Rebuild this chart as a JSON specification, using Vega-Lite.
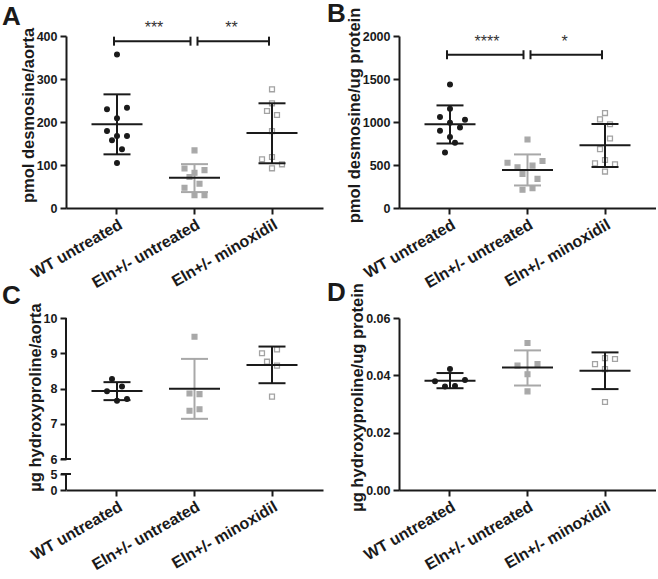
{
 "$schema": "https://vega.github.io/schema/vega-lite/v6.json",
 "padding": {"left": 2, "top": 1, "right": 0, "bottom": 0},
 "datasets": {
  "pts": [
   {"panel":"A","group":"WT untreated","value":357,"slot":0},
   {"panel":"A","group":"WT untreated","value":229.5,"slot":-2},
   {"panel":"A","group":"WT untreated","value":233,"slot":2},
   {"panel":"A","group":"WT untreated","value":208.6,"slot":0},
   {"panel":"A","group":"WT untreated","value":179,"slot":-2},
   {"panel":"A","group":"WT untreated","value":167.4,"slot":0},
   {"panel":"A","group":"WT untreated","value":167.4,"slot":2},
   {"panel":"A","group":"WT untreated","value":157.4,"slot":-1},
   {"panel":"A","group":"WT untreated","value":136.4,"slot":1},
   {"panel":"A","group":"WT untreated","value":104.7,"slot":0},
   {"panel":"A","group":"Eln+/- untreated","value":134,"slot":0},
   {"panel":"A","group":"Eln+/- untreated","value":92,"slot":-2},
   {"panel":"A","group":"Eln+/- untreated","value":88,"slot":2},
   {"panel":"A","group":"Eln+/- untreated","value":82,"slot":0},
   {"panel":"A","group":"Eln+/- untreated","value":72,"slot":-1},
   {"panel":"A","group":"Eln+/- untreated","value":56.5,"slot":1},
   {"panel":"A","group":"Eln+/- untreated","value":47,"slot":-2},
   {"panel":"A","group":"Eln+/- untreated","value":30,"slot":0},
   {"panel":"A","group":"Eln+/- untreated","value":30,"slot":2},
   {"panel":"A","group":"Eln+/- minoxidil","value":276,"slot":0},
   {"panel":"A","group":"Eln+/- minoxidil","value":243.5,"slot":0},
   {"panel":"A","group":"Eln+/- minoxidil","value":225.6,"slot":-1},
   {"panel":"A","group":"Eln+/- minoxidil","value":216.3,"slot":1},
   {"panel":"A","group":"Eln+/- minoxidil","value":179,"slot":0},
   {"panel":"A","group":"Eln+/- minoxidil","value":118.6,"slot":0},
   {"panel":"A","group":"Eln+/- minoxidil","value":113.2,"slot":-2},
   {"panel":"A","group":"Eln+/- minoxidil","value":101.6,"slot":2},
   {"panel":"A","group":"Eln+/- minoxidil","value":92.3,"slot":0},
   {"panel":"B","group":"WT untreated","value":1436,"slot":0},
   {"panel":"B","group":"WT untreated","value":1154,"slot":0},
   {"panel":"B","group":"WT untreated","value":1058,"slot":-2},
   {"panel":"B","group":"WT untreated","value":1027,"slot":3},
   {"panel":"B","group":"WT untreated","value":992,"slot":0},
   {"panel":"B","group":"WT untreated","value":935,"slot":2},
   {"panel":"B","group":"WT untreated","value":897,"slot":-2},
   {"panel":"B","group":"WT untreated","value":827,"slot":0},
   {"panel":"B","group":"WT untreated","value":758,"slot":1},
   {"panel":"B","group":"WT untreated","value":646,"slot":-1},
   {"panel":"B","group":"Eln+/- untreated","value":796,"slot":0},
   {"panel":"B","group":"Eln+/- untreated","value":527,"slot":-4},
   {"panel":"B","group":"Eln+/- untreated","value":473,"slot":-2},
   {"panel":"B","group":"Eln+/- untreated","value":493,"slot":1},
   {"panel":"B","group":"Eln+/- untreated","value":547,"slot":3},
   {"panel":"B","group":"Eln+/- untreated","value":397,"slot":-1},
   {"panel":"B","group":"Eln+/- untreated","value":339,"slot":2},
   {"panel":"B","group":"Eln+/- untreated","value":212,"slot":-1},
   {"panel":"B","group":"Eln+/- untreated","value":231,"slot":1},
   {"panel":"B","group":"Eln+/- minoxidil","value":1104,"slot":0},
   {"panel":"B","group":"Eln+/- minoxidil","value":1031,"slot":-1},
   {"panel":"B","group":"Eln+/- minoxidil","value":974,"slot":1},
   {"panel":"B","group":"Eln+/- minoxidil","value":808,"slot":1},
   {"panel":"B","group":"Eln+/- minoxidil","value":685,"slot":-1},
   {"panel":"B","group":"Eln+/- minoxidil","value":558,"slot":0},
   {"panel":"B","group":"Eln+/- minoxidil","value":519,"slot":-2},
   {"panel":"B","group":"Eln+/- minoxidil","value":508,"slot":2},
   {"panel":"B","group":"Eln+/- minoxidil","value":424,"slot":0},
   {"panel":"C","group":"WT untreated","value":8.27,"slot":-1},
   {"panel":"C","group":"WT untreated","value":8.06,"slot":1},
   {"panel":"C","group":"WT untreated","value":7.92,"slot":-2},
   {"panel":"C","group":"WT untreated","value":7.65,"slot":0},
   {"panel":"C","group":"WT untreated","value":7.7,"slot":2},
   {"panel":"C","group":"Eln+/- untreated","value":9.47,"slot":0},
   {"panel":"C","group":"Eln+/- untreated","value":7.86,"slot":-1},
   {"panel":"C","group":"Eln+/- untreated","value":7.84,"slot":1},
   {"panel":"C","group":"Eln+/- untreated","value":7.37,"slot":-1},
   {"panel":"C","group":"Eln+/- untreated","value":7.41,"slot":1},
   {"panel":"C","group":"Eln+/- minoxidil","value":9.11,"slot":1},
   {"panel":"C","group":"Eln+/- minoxidil","value":9.0,"slot":-2},
   {"panel":"C","group":"Eln+/- minoxidil","value":8.76,"slot":-1},
   {"panel":"C","group":"Eln+/- minoxidil","value":8.65,"slot":1},
   {"panel":"C","group":"Eln+/- minoxidil","value":7.77,"slot":0},
   {"panel":"D","group":"WT untreated","value":0.0422,"slot":0},
   {"panel":"D","group":"WT untreated","value":0.0379,"slot":-3},
   {"panel":"D","group":"WT untreated","value":0.0384,"slot":3},
   {"panel":"D","group":"WT untreated","value":0.0361,"slot":-1},
   {"panel":"D","group":"WT untreated","value":0.0363,"slot":1},
   {"panel":"D","group":"Eln+/- untreated","value":0.0513,"slot":0},
   {"panel":"D","group":"Eln+/- untreated","value":0.0434,"slot":-2},
   {"panel":"D","group":"Eln+/- untreated","value":0.0439,"slot":2},
   {"panel":"D","group":"Eln+/- untreated","value":0.0404,"slot":0},
   {"panel":"D","group":"Eln+/- untreated","value":0.0344,"slot":0},
   {"panel":"D","group":"Eln+/- minoxidil","value":0.046,"slot":0},
   {"panel":"D","group":"Eln+/- minoxidil","value":0.0457,"slot":2},
   {"panel":"D","group":"Eln+/- minoxidil","value":0.0439,"slot":-2},
   {"panel":"D","group":"Eln+/- minoxidil","value":0.0422,"slot":0},
   {"panel":"D","group":"Eln+/- minoxidil","value":0.0307,"slot":0}
  ],
  "summ": [
   {"panel":"A","group":"WT untreated","mean":194.5,"lo":124.8,"hi":264.3},
   {"panel":"A","group":"Eln+/- untreated","mean":70.5,"lo":37,"hi":102},
   {"panel":"A","group":"Eln+/- minoxidil","mean":174.4,"lo":104,"hi":243.5},
   {"panel":"B","group":"WT untreated","mean":974,"lo":750,"hi":1193},
   {"panel":"B","group":"Eln+/- untreated","mean":443,"lo":262,"hi":623},
   {"panel":"B","group":"Eln+/- minoxidil","mean":731,"lo":477,"hi":977},
   {"panel":"C","group":"WT untreated","mean":7.93,"lo":7.67,"hi":8.18},
   {"panel":"C","group":"Eln+/- untreated","mean":7.99,"lo":7.14,"hi":8.84},
   {"panel":"C","group":"Eln+/- minoxidil","mean":8.67,"lo":8.15,"hi":9.19},
   {"panel":"D","group":"WT untreated","mean":0.0381,"lo":0.0355,"hi":0.0408},
   {"panel":"D","group":"Eln+/- untreated","mean":0.0427,"lo":0.03645,"hi":0.0487},
   {"panel":"D","group":"Eln+/- minoxidil","mean":0.0416,"lo":0.0352,"hi":0.048}
  ],
  "sig": [
   {"panel":"A","b":1,"from":"WT untreated","to":"Eln+/- untreated","y":388,"label":"***"},
   {"panel":"A","b":2,"from":"Eln+/- untreated","to":"Eln+/- minoxidil","y":388,"label":"**"},
   {"panel":"B","b":1,"from":"WT untreated","to":"Eln+/- untreated","y":1782,"label":"****"},
   {"panel":"B","b":2,"from":"Eln+/- untreated","to":"Eln+/- minoxidil","y":1782,"label":"*"}
  ],
  "brk": [
   {"a":0,"b":5,"cap":5},
   {"a":6,"b":10,"cap":6}
  ]
 },
 "config": {
  "font": "Liberation Sans",
  "view": {"stroke": null},
  "axis": {"grid": false, "domainColor": "#1a1a1a", "domainWidth": 2, "tickColor": "#1a1a1a", "tickWidth": 2, "tickSize": 6, "labelColor": "#1a1a1a", "labelFontWeight": "bold", "titleColor": "#1a1a1a", "titleFontWeight": "bold", "titleFontSize": 16.5, "labelFont": "Liberation Sans", "titleFont": "Liberation Sans"},
  "axisY": {"labelFontSize": 12.5, "labelPadding": 3, "titlePadding": 0, "titleY": 79},
  "axisX": {"labelFontSize": 16, "labelAngle": -30, "labelPadding": 2},
  "title": {"anchor": "start", "frame": "group", "fontSize": 26, "fontWeight": "bold", "color": "#1a1a1a", "font": "Liberation Sans"}
 },
 "spacing": -12,
 "vconcat": [
  {
   "spacing": 4,
   "hconcat": [
    {
     "width": 257, "height": 172,
     "title": {"text": "A", "dx": -64, "offset": -10},
     "layer": [
      {"data": {"name": "pts"}, "transform": [{"filter": "datum.panel==='A'"}],
       "mark": {"type": "point", "filled": false, "strokeWidth": 1.3, "opacity": 1},
       "encoding": {
        "x": {"field": "group", "type": "nominal", "scale": {"type": "band", "domain": ["WT untreated","Eln+/- untreated","Eln+/- minoxidil"], "paddingInner": 0.484, "paddingOuter": 0.4}, "axis": {"title": null}},
        "xOffset": {"field": "slot", "type": "quantitative", "scale": {"domain": [-4, 4], "nice": false, "zero": false}},
        "y": {"field": "value", "type": "quantitative", "scale": {"domain": [0, 400], "nice": false, "zero": false}, "axis": {"values": [0,100,200,300,400], "format": "d", "title": "pmol desmosine/aorta"}},
        "shape": {"field": "group", "type": "nominal", "scale": {"domain": ["WT untreated","Eln+/- untreated","Eln+/- minoxidil"], "range": ["circle","square","square"]}, "legend": null},
        "fill": {"field": "group", "type": "nominal", "scale": {"domain": ["WT untreated","Eln+/- untreated","Eln+/- minoxidil"], "range": ["#1a1a1a","#a8a8a8","transparent"]}, "legend": null},
        "stroke": {"field": "group", "type": "nominal", "scale": {"domain": ["WT untreated","Eln+/- untreated","Eln+/- minoxidil"], "range": ["#1a1a1a","#a8a8a8","#a3a3a3"]}, "legend": null},
        "size": {"field": "group", "type": "ordinal", "scale": {"domain": ["WT untreated","Eln+/- untreated","Eln+/- minoxidil"], "range": [22,24,32]}, "legend": null}
       }},
      {"data": {"name": "summ"}, "transform": [{"filter": "datum.panel==='A'"}],
       "mark": {"type": "rule", "strokeWidth": 2},
       "encoding": {
        "x": {"field": "group", "type": "nominal", "scale": {"type": "band", "domain": ["WT untreated","Eln+/- untreated","Eln+/- minoxidil"], "paddingInner": 0.484, "paddingOuter": 0.4}, "axis": {"title": null}},
        "y": {"field": "lo", "type": "quantitative", "scale": {"domain": [0, 400], "nice": false, "zero": false}, "axis": {"values": [0,100,200,300,400], "format": "d", "title": "pmol desmosine/aorta"}},
        "y2": {"field": "hi"},
        "color": {"field": "group", "type": "nominal", "scale": {"domain": ["WT untreated","Eln+/- untreated","Eln+/- minoxidil"], "range": ["#1a1a1a","#a8a8a8","#1a1a1a"]}, "legend": null}
       }},
      {"data": {"name": "summ"}, "transform": [{"filter": "datum.panel==='A'"}],
       "mark": {"type": "tick", "orient": "horizontal", "size": 27, "thickness": 2, "opacity": 1},
       "encoding": {
        "x": {"field": "group", "type": "nominal", "scale": {"type": "band", "domain": ["WT untreated","Eln+/- untreated","Eln+/- minoxidil"], "paddingInner": 0.484, "paddingOuter": 0.4}, "axis": {"title": null}},
        "y": {"field": "hi", "type": "quantitative", "scale": {"domain": [0, 400], "nice": false, "zero": false}, "axis": {"values": [0,100,200,300,400], "format": "d", "title": "pmol desmosine/aorta"}},
        "color": {"field": "group", "type": "nominal", "scale": {"domain": ["WT untreated","Eln+/- untreated","Eln+/- minoxidil"], "range": ["#1a1a1a","#a8a8a8","#1a1a1a"]}, "legend": null}
       }},
      {"data": {"name": "summ"}, "transform": [{"filter": "datum.panel==='A'"}],
       "mark": {"type": "tick", "orient": "horizontal", "size": 27, "thickness": 2, "opacity": 1},
       "encoding": {
        "x": {"field": "group", "type": "nominal", "scale": {"type": "band", "domain": ["WT untreated","Eln+/- untreated","Eln+/- minoxidil"], "paddingInner": 0.484, "paddingOuter": 0.4}, "axis": {"title": null}},
        "y": {"field": "lo", "type": "quantitative", "scale": {"domain": [0, 400], "nice": false, "zero": false}, "axis": {"values": [0,100,200,300,400], "format": "d", "title": "pmol desmosine/aorta"}},
        "color": {"field": "group", "type": "nominal", "scale": {"domain": ["WT untreated","Eln+/- untreated","Eln+/- minoxidil"], "range": ["#1a1a1a","#a8a8a8","#1a1a1a"]}, "legend": null}
       }},
      {"data": {"name": "summ"}, "transform": [{"filter": "datum.panel==='A'"}],
       "mark": {"type": "tick", "orient": "horizontal", "size": 51, "thickness": 2, "opacity": 1, "color": "#1a1a1a"},
       "encoding": {
        "x": {"field": "group", "type": "nominal", "scale": {"type": "band", "domain": ["WT untreated","Eln+/- untreated","Eln+/- minoxidil"], "paddingInner": 0.484, "paddingOuter": 0.4}, "axis": {"title": null}},
        "y": {"field": "mean", "type": "quantitative", "scale": {"domain": [0, 400], "nice": false, "zero": false}, "axis": {"values": [0,100,200,300,400], "format": "d", "title": "pmol desmosine/aorta"}}
       }},
      {"data": {"name": "sig"}, "transform": [{"filter": "datum.panel==='A' && datum.b===1"}],
       "mark": {"type": "rule", "strokeWidth": 2, "color": "#1a1a1a", "xOffset": -3, "x2Offset": -4},
       "encoding": {
        "x": {"field": "from", "type": "nominal", "scale": {"type": "band", "domain": ["WT untreated","Eln+/- untreated","Eln+/- minoxidil"], "paddingInner": 0.484, "paddingOuter": 0.4}, "axis": {"title": null}},
        "x2": {"field": "to"},
        "y": {"field": "y", "type": "quantitative", "scale": {"domain": [0, 400], "nice": false, "zero": false}, "axis": {"values": [0,100,200,300,400], "format": "d", "title": "pmol desmosine/aorta"}}
       }},
      {"data": {"name": "sig"}, "transform": [{"filter": "datum.panel==='A' && datum.b===2"}],
       "mark": {"type": "rule", "strokeWidth": 2, "color": "#1a1a1a", "xOffset": 3, "x2Offset": -3},
       "encoding": {
        "x": {"field": "from", "type": "nominal", "scale": {"type": "band", "domain": ["WT untreated","Eln+/- untreated","Eln+/- minoxidil"], "paddingInner": 0.484, "paddingOuter": 0.4}, "axis": {"title": null}},
        "x2": {"field": "to"},
        "y": {"field": "y", "type": "quantitative", "scale": {"domain": [0, 400], "nice": false, "zero": false}, "axis": {"values": [0,100,200,300,400], "format": "d", "title": "pmol desmosine/aorta"}}
       }},
      {"data": {"name": "sig"}, "transform": [{"filter": "datum.panel==='A' && datum.b===1"}],
       "mark": {"type": "tick", "orient": "vertical", "size": 9, "thickness": 2, "opacity": 1, "color": "#1a1a1a", "xOffset": -3},
       "encoding": {
        "x": {"field": "from", "type": "nominal", "scale": {"type": "band", "domain": ["WT untreated","Eln+/- untreated","Eln+/- minoxidil"], "paddingInner": 0.484, "paddingOuter": 0.4}, "axis": {"title": null}},
        "y": {"field": "y", "type": "quantitative", "scale": {"domain": [0, 400], "nice": false, "zero": false}, "axis": {"values": [0,100,200,300,400], "format": "d", "title": "pmol desmosine/aorta"}}
       }},
      {"data": {"name": "sig"}, "transform": [{"filter": "datum.panel==='A' && datum.b===1"}],
       "mark": {"type": "tick", "orient": "vertical", "size": 9, "thickness": 2, "opacity": 1, "color": "#1a1a1a", "xOffset": -4},
       "encoding": {
        "x": {"field": "to", "type": "nominal", "scale": {"type": "band", "domain": ["WT untreated","Eln+/- untreated","Eln+/- minoxidil"], "paddingInner": 0.484, "paddingOuter": 0.4}, "axis": {"title": null}},
        "y": {"field": "y", "type": "quantitative", "scale": {"domain": [0, 400], "nice": false, "zero": false}, "axis": {"values": [0,100,200,300,400], "format": "d", "title": "pmol desmosine/aorta"}}
       }},
      {"data": {"name": "sig"}, "transform": [{"filter": "datum.panel==='A' && datum.b===2"}],
       "mark": {"type": "tick", "orient": "vertical", "size": 9, "thickness": 2, "opacity": 1, "color": "#1a1a1a", "xOffset": 3},
       "encoding": {
        "x": {"field": "from", "type": "nominal", "scale": {"type": "band", "domain": ["WT untreated","Eln+/- untreated","Eln+/- minoxidil"], "paddingInner": 0.484, "paddingOuter": 0.4}, "axis": {"title": null}},
        "y": {"field": "y", "type": "quantitative", "scale": {"domain": [0, 400], "nice": false, "zero": false}, "axis": {"values": [0,100,200,300,400], "format": "d", "title": "pmol desmosine/aorta"}}
       }},
      {"data": {"name": "sig"}, "transform": [{"filter": "datum.panel==='A' && datum.b===2"}],
       "mark": {"type": "tick", "orient": "vertical", "size": 9, "thickness": 2, "opacity": 1, "color": "#1a1a1a", "xOffset": -3},
       "encoding": {
        "x": {"field": "to", "type": "nominal", "scale": {"type": "band", "domain": ["WT untreated","Eln+/- untreated","Eln+/- minoxidil"], "paddingInner": 0.484, "paddingOuter": 0.4}, "axis": {"title": null}},
        "y": {"field": "y", "type": "quantitative", "scale": {"domain": [0, 400], "nice": false, "zero": false}, "axis": {"values": [0,100,200,300,400], "format": "d", "title": "pmol desmosine/aorta"}}
       }},
      {"data": {"name": "sig"}, "transform": [{"filter": "datum.panel==='A'"}],
       "mark": {"type": "text", "dx": 37, "dy": -8, "fontSize": 16, "baseline": "alphabetic", "align": "center", "color": "#333333"},
       "encoding": {
        "x": {"field": "from", "type": "nominal", "scale": {"type": "band", "domain": ["WT untreated","Eln+/- untreated","Eln+/- minoxidil"], "paddingInner": 0.484, "paddingOuter": 0.4}, "axis": {"title": null}},
        "y": {"field": "y", "type": "quantitative", "scale": {"domain": [0, 400], "nice": false, "zero": false}, "axis": {"values": [0,100,200,300,400], "format": "d", "title": "pmol desmosine/aorta"}},
        "text": {"field": "label"}
       }}
     ]
    },
    {
     "width": 257, "height": 172,
     "title": {"text": "B", "dx": -72, "offset": -20},
     "layer": [
      {"data": {"name": "pts"}, "transform": [{"filter": "datum.panel==='B'"}],
       "mark": {"type": "point", "filled": false, "strokeWidth": 1.3, "opacity": 1},
       "encoding": {
        "x": {"field": "group", "type": "nominal", "scale": {"type": "band", "domain": ["WT untreated","Eln+/- untreated","Eln+/- minoxidil"], "paddingInner": 0.484, "paddingOuter": 0.4}, "axis": {"title": null}},
        "xOffset": {"field": "slot", "type": "quantitative", "scale": {"domain": [-4, 4], "nice": false, "zero": false}},
        "y": {"field": "value", "type": "quantitative", "scale": {"domain": [0, 2000], "nice": false, "zero": false}, "axis": {"values": [0,500,1000,1500,2000], "format": "d", "title": "pmol desmosine/ug protein"}},
        "shape": {"field": "group", "type": "nominal", "scale": {"domain": ["WT untreated","Eln+/- untreated","Eln+/- minoxidil"], "range": ["circle","square","square"]}, "legend": null},
        "fill": {"field": "group", "type": "nominal", "scale": {"domain": ["WT untreated","Eln+/- untreated","Eln+/- minoxidil"], "range": ["#1a1a1a","#a8a8a8","transparent"]}, "legend": null},
        "stroke": {"field": "group", "type": "nominal", "scale": {"domain": ["WT untreated","Eln+/- untreated","Eln+/- minoxidil"], "range": ["#1a1a1a","#a8a8a8","#a3a3a3"]}, "legend": null},
        "size": {"field": "group", "type": "ordinal", "scale": {"domain": ["WT untreated","Eln+/- untreated","Eln+/- minoxidil"], "range": [22,24,32]}, "legend": null}
       }},
      {"data": {"name": "summ"}, "transform": [{"filter": "datum.panel==='B'"}],
       "mark": {"type": "rule", "strokeWidth": 2},
       "encoding": {
        "x": {"field": "group", "type": "nominal", "scale": {"type": "band", "domain": ["WT untreated","Eln+/- untreated","Eln+/- minoxidil"], "paddingInner": 0.484, "paddingOuter": 0.4}, "axis": {"title": null}},
        "y": {"field": "lo", "type": "quantitative", "scale": {"domain": [0, 2000], "nice": false, "zero": false}, "axis": {"values": [0,500,1000,1500,2000], "format": "d", "title": "pmol desmosine/ug protein"}},
        "y2": {"field": "hi"},
        "color": {"field": "group", "type": "nominal", "scale": {"domain": ["WT untreated","Eln+/- untreated","Eln+/- minoxidil"], "range": ["#1a1a1a","#a8a8a8","#1a1a1a"]}, "legend": null}
       }},
      {"data": {"name": "summ"}, "transform": [{"filter": "datum.panel==='B'"}],
       "mark": {"type": "tick", "orient": "horizontal", "size": 27, "thickness": 2, "opacity": 1},
       "encoding": {
        "x": {"field": "group", "type": "nominal", "scale": {"type": "band", "domain": ["WT untreated","Eln+/- untreated","Eln+/- minoxidil"], "paddingInner": 0.484, "paddingOuter": 0.4}, "axis": {"title": null}},
        "y": {"field": "hi", "type": "quantitative", "scale": {"domain": [0, 2000], "nice": false, "zero": false}, "axis": {"values": [0,500,1000,1500,2000], "format": "d", "title": "pmol desmosine/ug protein"}},
        "color": {"field": "group", "type": "nominal", "scale": {"domain": ["WT untreated","Eln+/- untreated","Eln+/- minoxidil"], "range": ["#1a1a1a","#a8a8a8","#1a1a1a"]}, "legend": null}
       }},
      {"data": {"name": "summ"}, "transform": [{"filter": "datum.panel==='B'"}],
       "mark": {"type": "tick", "orient": "horizontal", "size": 27, "thickness": 2, "opacity": 1},
       "encoding": {
        "x": {"field": "group", "type": "nominal", "scale": {"type": "band", "domain": ["WT untreated","Eln+/- untreated","Eln+/- minoxidil"], "paddingInner": 0.484, "paddingOuter": 0.4}, "axis": {"title": null}},
        "y": {"field": "lo", "type": "quantitative", "scale": {"domain": [0, 2000], "nice": false, "zero": false}, "axis": {"values": [0,500,1000,1500,2000], "format": "d", "title": "pmol desmosine/ug protein"}},
        "color": {"field": "group", "type": "nominal", "scale": {"domain": ["WT untreated","Eln+/- untreated","Eln+/- minoxidil"], "range": ["#1a1a1a","#a8a8a8","#1a1a1a"]}, "legend": null}
       }},
      {"data": {"name": "summ"}, "transform": [{"filter": "datum.panel==='B'"}],
       "mark": {"type": "tick", "orient": "horizontal", "size": 51, "thickness": 2, "opacity": 1, "color": "#1a1a1a"},
       "encoding": {
        "x": {"field": "group", "type": "nominal", "scale": {"type": "band", "domain": ["WT untreated","Eln+/- untreated","Eln+/- minoxidil"], "paddingInner": 0.484, "paddingOuter": 0.4}, "axis": {"title": null}},
        "y": {"field": "mean", "type": "quantitative", "scale": {"domain": [0, 2000], "nice": false, "zero": false}, "axis": {"values": [0,500,1000,1500,2000], "format": "d", "title": "pmol desmosine/ug protein"}}
       }},
      {"data": {"name": "sig"}, "transform": [{"filter": "datum.panel==='B' && datum.b===1"}],
       "mark": {"type": "rule", "strokeWidth": 2, "color": "#1a1a1a", "xOffset": -3, "x2Offset": -4},
       "encoding": {
        "x": {"field": "from", "type": "nominal", "scale": {"type": "band", "domain": ["WT untreated","Eln+/- untreated","Eln+/- minoxidil"], "paddingInner": 0.484, "paddingOuter": 0.4}, "axis": {"title": null}},
        "x2": {"field": "to"},
        "y": {"field": "y", "type": "quantitative", "scale": {"domain": [0, 2000], "nice": false, "zero": false}, "axis": {"values": [0,500,1000,1500,2000], "format": "d", "title": "pmol desmosine/ug protein"}}
       }},
      {"data": {"name": "sig"}, "transform": [{"filter": "datum.panel==='B' && datum.b===2"}],
       "mark": {"type": "rule", "strokeWidth": 2, "color": "#1a1a1a", "xOffset": 3, "x2Offset": -3},
       "encoding": {
        "x": {"field": "from", "type": "nominal", "scale": {"type": "band", "domain": ["WT untreated","Eln+/- untreated","Eln+/- minoxidil"], "paddingInner": 0.484, "paddingOuter": 0.4}, "axis": {"title": null}},
        "x2": {"field": "to"},
        "y": {"field": "y", "type": "quantitative", "scale": {"domain": [0, 2000], "nice": false, "zero": false}, "axis": {"values": [0,500,1000,1500,2000], "format": "d", "title": "pmol desmosine/ug protein"}}
       }},
      {"data": {"name": "sig"}, "transform": [{"filter": "datum.panel==='B' && datum.b===1"}],
       "mark": {"type": "tick", "orient": "vertical", "size": 9, "thickness": 2, "opacity": 1, "color": "#1a1a1a", "xOffset": -3},
       "encoding": {
        "x": {"field": "from", "type": "nominal", "scale": {"type": "band", "domain": ["WT untreated","Eln+/- untreated","Eln+/- minoxidil"], "paddingInner": 0.484, "paddingOuter": 0.4}, "axis": {"title": null}},
        "y": {"field": "y", "type": "quantitative", "scale": {"domain": [0, 2000], "nice": false, "zero": false}, "axis": {"values": [0,500,1000,1500,2000], "format": "d", "title": "pmol desmosine/ug protein"}}
       }},
      {"data": {"name": "sig"}, "transform": [{"filter": "datum.panel==='B' && datum.b===1"}],
       "mark": {"type": "tick", "orient": "vertical", "size": 9, "thickness": 2, "opacity": 1, "color": "#1a1a1a", "xOffset": -4},
       "encoding": {
        "x": {"field": "to", "type": "nominal", "scale": {"type": "band", "domain": ["WT untreated","Eln+/- untreated","Eln+/- minoxidil"], "paddingInner": 0.484, "paddingOuter": 0.4}, "axis": {"title": null}},
        "y": {"field": "y", "type": "quantitative", "scale": {"domain": [0, 2000], "nice": false, "zero": false}, "axis": {"values": [0,500,1000,1500,2000], "format": "d", "title": "pmol desmosine/ug protein"}}
       }},
      {"data": {"name": "sig"}, "transform": [{"filter": "datum.panel==='B' && datum.b===2"}],
       "mark": {"type": "tick", "orient": "vertical", "size": 9, "thickness": 2, "opacity": 1, "color": "#1a1a1a", "xOffset": 3},
       "encoding": {
        "x": {"field": "from", "type": "nominal", "scale": {"type": "band", "domain": ["WT untreated","Eln+/- untreated","Eln+/- minoxidil"], "paddingInner": 0.484, "paddingOuter": 0.4}, "axis": {"title": null}},
        "y": {"field": "y", "type": "quantitative", "scale": {"domain": [0, 2000], "nice": false, "zero": false}, "axis": {"values": [0,500,1000,1500,2000], "format": "d", "title": "pmol desmosine/ug protein"}}
       }},
      {"data": {"name": "sig"}, "transform": [{"filter": "datum.panel==='B' && datum.b===2"}],
       "mark": {"type": "tick", "orient": "vertical", "size": 9, "thickness": 2, "opacity": 1, "color": "#1a1a1a", "xOffset": -3},
       "encoding": {
        "x": {"field": "to", "type": "nominal", "scale": {"type": "band", "domain": ["WT untreated","Eln+/- untreated","Eln+/- minoxidil"], "paddingInner": 0.484, "paddingOuter": 0.4}, "axis": {"title": null}},
        "y": {"field": "y", "type": "quantitative", "scale": {"domain": [0, 2000], "nice": false, "zero": false}, "axis": {"values": [0,500,1000,1500,2000], "format": "d", "title": "pmol desmosine/ug protein"}}
       }},
      {"data": {"name": "sig"}, "transform": [{"filter": "datum.panel==='B'"}],
       "mark": {"type": "text", "dx": 37, "dy": -8, "fontSize": 16, "baseline": "alphabetic", "align": "center", "color": "#333333"},
       "encoding": {
        "x": {"field": "from", "type": "nominal", "scale": {"type": "band", "domain": ["WT untreated","Eln+/- untreated","Eln+/- minoxidil"], "paddingInner": 0.484, "paddingOuter": 0.4}, "axis": {"title": null}},
        "y": {"field": "y", "type": "quantitative", "scale": {"domain": [0, 2000], "nice": false, "zero": false}, "axis": {"values": [0,500,1000,1500,2000], "format": "d", "title": "pmol desmosine/ug protein"}},
        "text": {"field": "label"}
       }}
     ]
    }
   ]
  },
  {
   "spacing": 4,
   "hconcat": [
    {
     "width": 257, "height": 172,
     "title": {"text": "C", "dx": -64, "offset": -6},
     "resolve": {"scale": {"x": "independent"}},
     "layer": [
      {
       "layer": [
        {"data": {"name": "pts"}, "transform": [{"filter": "datum.panel==='C'"}],
         "mark": {"type": "point", "filled": false, "strokeWidth": 1.3, "opacity": 1},
         "encoding": {
          "x": {"field": "group", "type": "nominal", "scale": {"type": "band", "domain": ["WT untreated","Eln+/- untreated","Eln+/- minoxidil"], "paddingInner": 0.484, "paddingOuter": 0.4}, "axis": {"title": null}},
          "xOffset": {"field": "slot", "type": "quantitative", "scale": {"domain": [-4, 4], "nice": false, "zero": false}},
          "y": {"field": "value", "type": "quantitative", "scale": {"domain": [0, 5, 6, 10], "range": [172, 156, 141, 0], "nice": false, "zero": false}, "axis": {"values": [0,5,6,7,8,9,10], "format": "d", "domain": false, "title": "µg hydroxyproline/aorta"}},
          "shape": {"field": "group", "type": "nominal", "scale": {"domain": ["WT untreated","Eln+/- untreated","Eln+/- minoxidil"], "range": ["circle","square","square"]}, "legend": null},
          "fill": {"field": "group", "type": "nominal", "scale": {"domain": ["WT untreated","Eln+/- untreated","Eln+/- minoxidil"], "range": ["#1a1a1a","#a8a8a8","transparent"]}, "legend": null},
          "stroke": {"field": "group", "type": "nominal", "scale": {"domain": ["WT untreated","Eln+/- untreated","Eln+/- minoxidil"], "range": ["#1a1a1a","#a8a8a8","#a3a3a3"]}, "legend": null},
          "size": {"field": "group", "type": "ordinal", "scale": {"domain": ["WT untreated","Eln+/- untreated","Eln+/- minoxidil"], "range": [22,24,32]}, "legend": null}
         }},
        {"data": {"name": "summ"}, "transform": [{"filter": "datum.panel==='C'"}],
         "mark": {"type": "rule", "strokeWidth": 2},
         "encoding": {
          "x": {"field": "group", "type": "nominal", "scale": {"type": "band", "domain": ["WT untreated","Eln+/- untreated","Eln+/- minoxidil"], "paddingInner": 0.484, "paddingOuter": 0.4}, "axis": {"title": null}},
          "y": {"field": "lo", "type": "quantitative", "scale": {"domain": [0, 5, 6, 10], "range": [172, 156, 141, 0], "nice": false, "zero": false}, "axis": {"values": [0,5,6,7,8,9,10], "format": "d", "domain": false, "title": "µg hydroxyproline/aorta"}},
          "y2": {"field": "hi"},
          "color": {"field": "group", "type": "nominal", "scale": {"domain": ["WT untreated","Eln+/- untreated","Eln+/- minoxidil"], "range": ["#1a1a1a","#a8a8a8","#1a1a1a"]}, "legend": null}
         }},
        {"data": {"name": "summ"}, "transform": [{"filter": "datum.panel==='C'"}],
         "mark": {"type": "tick", "orient": "horizontal", "size": 27, "thickness": 2, "opacity": 1},
         "encoding": {
          "x": {"field": "group", "type": "nominal", "scale": {"type": "band", "domain": ["WT untreated","Eln+/- untreated","Eln+/- minoxidil"], "paddingInner": 0.484, "paddingOuter": 0.4}, "axis": {"title": null}},
          "y": {"field": "hi", "type": "quantitative", "scale": {"domain": [0, 5, 6, 10], "range": [172, 156, 141, 0], "nice": false, "zero": false}, "axis": {"values": [0,5,6,7,8,9,10], "format": "d", "domain": false, "title": "µg hydroxyproline/aorta"}},
          "color": {"field": "group", "type": "nominal", "scale": {"domain": ["WT untreated","Eln+/- untreated","Eln+/- minoxidil"], "range": ["#1a1a1a","#a8a8a8","#1a1a1a"]}, "legend": null}
         }},
        {"data": {"name": "summ"}, "transform": [{"filter": "datum.panel==='C'"}],
         "mark": {"type": "tick", "orient": "horizontal", "size": 27, "thickness": 2, "opacity": 1},
         "encoding": {
          "x": {"field": "group", "type": "nominal", "scale": {"type": "band", "domain": ["WT untreated","Eln+/- untreated","Eln+/- minoxidil"], "paddingInner": 0.484, "paddingOuter": 0.4}, "axis": {"title": null}},
          "y": {"field": "lo", "type": "quantitative", "scale": {"domain": [0, 5, 6, 10], "range": [172, 156, 141, 0], "nice": false, "zero": false}, "axis": {"values": [0,5,6,7,8,9,10], "format": "d", "domain": false, "title": "µg hydroxyproline/aorta"}},
          "color": {"field": "group", "type": "nominal", "scale": {"domain": ["WT untreated","Eln+/- untreated","Eln+/- minoxidil"], "range": ["#1a1a1a","#a8a8a8","#1a1a1a"]}, "legend": null}
         }},
        {"data": {"name": "summ"}, "transform": [{"filter": "datum.panel==='C'"}],
         "mark": {"type": "tick", "orient": "horizontal", "size": 51, "thickness": 2, "opacity": 1, "color": "#1a1a1a"},
         "encoding": {
          "x": {"field": "group", "type": "nominal", "scale": {"type": "band", "domain": ["WT untreated","Eln+/- untreated","Eln+/- minoxidil"], "paddingInner": 0.484, "paddingOuter": 0.4}, "axis": {"title": null}},
          "y": {"field": "mean", "type": "quantitative", "scale": {"domain": [0, 5, 6, 10], "range": [172, 156, 141, 0], "nice": false, "zero": false}, "axis": {"values": [0,5,6,7,8,9,10], "format": "d", "domain": false, "title": "µg hydroxyproline/aorta"}}
         }}
       ]
      },
      {"data": {"name": "brk"},
       "mark": {"type": "rule", "strokeWidth": 2, "color": "#1a1a1a"},
       "encoding": {
        "x": {"datum": 0, "type": "quantitative", "scale": {"domain": [0, 1]}, "axis": null},
        "y": {"field": "a", "type": "quantitative", "scale": {"domain": [0, 5, 6, 10], "range": [172, 156, 141, 0], "nice": false, "zero": false}, "axis": {"values": [0,5,6,7,8,9,10], "format": "d", "domain": false, "title": "µg hydroxyproline/aorta"}},
        "y2": {"field": "b"}
       }},
      {"data": {"name": "brk"},
       "mark": {"type": "tick", "orient": "horizontal", "size": 10, "thickness": 2, "opacity": 1, "color": "#1a1a1a"},
       "encoding": {
        "x": {"datum": 0, "type": "quantitative", "scale": {"domain": [0, 1]}, "axis": null},
        "y": {"field": "cap", "type": "quantitative", "scale": {"domain": [0, 5, 6, 10], "range": [172, 156, 141, 0], "nice": false, "zero": false}, "axis": {"values": [0,5,6,7,8,9,10], "format": "d", "domain": false, "title": "µg hydroxyproline/aorta"}}
       }}
     ]
    },
    {
     "width": 257, "height": 172,
     "title": {"text": "D", "dx": -72, "offset": -23},
     "layer": [
      {"data": {"name": "pts"}, "transform": [{"filter": "datum.panel==='D'"}],
       "mark": {"type": "point", "filled": false, "strokeWidth": 1.3, "opacity": 1},
       "encoding": {
        "x": {"field": "group", "type": "nominal", "scale": {"type": "band", "domain": ["WT untreated","Eln+/- untreated","Eln+/- minoxidil"], "paddingInner": 0.484, "paddingOuter": 0.4}, "axis": {"title": null}},
        "xOffset": {"field": "slot", "type": "quantitative", "scale": {"domain": [-4, 4], "nice": false, "zero": false}},
        "y": {"field": "value", "type": "quantitative", "scale": {"domain": [0, 0.06], "nice": false, "zero": false}, "axis": {"values": [0,0.02,0.04,0.06], "format": ".2f", "title": "µg hydroxyproline/ug protein"}},
        "shape": {"field": "group", "type": "nominal", "scale": {"domain": ["WT untreated","Eln+/- untreated","Eln+/- minoxidil"], "range": ["circle","square","square"]}, "legend": null},
        "fill": {"field": "group", "type": "nominal", "scale": {"domain": ["WT untreated","Eln+/- untreated","Eln+/- minoxidil"], "range": ["#1a1a1a","#a8a8a8","transparent"]}, "legend": null},
        "stroke": {"field": "group", "type": "nominal", "scale": {"domain": ["WT untreated","Eln+/- untreated","Eln+/- minoxidil"], "range": ["#1a1a1a","#a8a8a8","#a3a3a3"]}, "legend": null},
        "size": {"field": "group", "type": "ordinal", "scale": {"domain": ["WT untreated","Eln+/- untreated","Eln+/- minoxidil"], "range": [22,24,32]}, "legend": null}
       }},
      {"data": {"name": "summ"}, "transform": [{"filter": "datum.panel==='D'"}],
       "mark": {"type": "rule", "strokeWidth": 2},
       "encoding": {
        "x": {"field": "group", "type": "nominal", "scale": {"type": "band", "domain": ["WT untreated","Eln+/- untreated","Eln+/- minoxidil"], "paddingInner": 0.484, "paddingOuter": 0.4}, "axis": {"title": null}},
        "y": {"field": "lo", "type": "quantitative", "scale": {"domain": [0, 0.06], "nice": false, "zero": false}, "axis": {"values": [0,0.02,0.04,0.06], "format": ".2f", "title": "µg hydroxyproline/ug protein"}},
        "y2": {"field": "hi"},
        "color": {"field": "group", "type": "nominal", "scale": {"domain": ["WT untreated","Eln+/- untreated","Eln+/- minoxidil"], "range": ["#1a1a1a","#a8a8a8","#1a1a1a"]}, "legend": null}
       }},
      {"data": {"name": "summ"}, "transform": [{"filter": "datum.panel==='D'"}],
       "mark": {"type": "tick", "orient": "horizontal", "size": 27, "thickness": 2, "opacity": 1},
       "encoding": {
        "x": {"field": "group", "type": "nominal", "scale": {"type": "band", "domain": ["WT untreated","Eln+/- untreated","Eln+/- minoxidil"], "paddingInner": 0.484, "paddingOuter": 0.4}, "axis": {"title": null}},
        "y": {"field": "hi", "type": "quantitative", "scale": {"domain": [0, 0.06], "nice": false, "zero": false}, "axis": {"values": [0,0.02,0.04,0.06], "format": ".2f", "title": "µg hydroxyproline/ug protein"}},
        "color": {"field": "group", "type": "nominal", "scale": {"domain": ["WT untreated","Eln+/- untreated","Eln+/- minoxidil"], "range": ["#1a1a1a","#a8a8a8","#1a1a1a"]}, "legend": null}
       }},
      {"data": {"name": "summ"}, "transform": [{"filter": "datum.panel==='D'"}],
       "mark": {"type": "tick", "orient": "horizontal", "size": 27, "thickness": 2, "opacity": 1},
       "encoding": {
        "x": {"field": "group", "type": "nominal", "scale": {"type": "band", "domain": ["WT untreated","Eln+/- untreated","Eln+/- minoxidil"], "paddingInner": 0.484, "paddingOuter": 0.4}, "axis": {"title": null}},
        "y": {"field": "lo", "type": "quantitative", "scale": {"domain": [0, 0.06], "nice": false, "zero": false}, "axis": {"values": [0,0.02,0.04,0.06], "format": ".2f", "title": "µg hydroxyproline/ug protein"}},
        "color": {"field": "group", "type": "nominal", "scale": {"domain": ["WT untreated","Eln+/- untreated","Eln+/- minoxidil"], "range": ["#1a1a1a","#a8a8a8","#1a1a1a"]}, "legend": null}
       }},
      {"data": {"name": "summ"}, "transform": [{"filter": "datum.panel==='D'"}],
       "mark": {"type": "tick", "orient": "horizontal", "size": 51, "thickness": 2, "opacity": 1, "color": "#1a1a1a"},
       "encoding": {
        "x": {"field": "group", "type": "nominal", "scale": {"type": "band", "domain": ["WT untreated","Eln+/- untreated","Eln+/- minoxidil"], "paddingInner": 0.484, "paddingOuter": 0.4}, "axis": {"title": null}},
        "y": {"field": "mean", "type": "quantitative", "scale": {"domain": [0, 0.06], "nice": false, "zero": false}, "axis": {"values": [0,0.02,0.04,0.06], "format": ".2f", "title": "µg hydroxyproline/ug protein"}}
       }}
     ]
    }
   ]
  }
 ]
}
